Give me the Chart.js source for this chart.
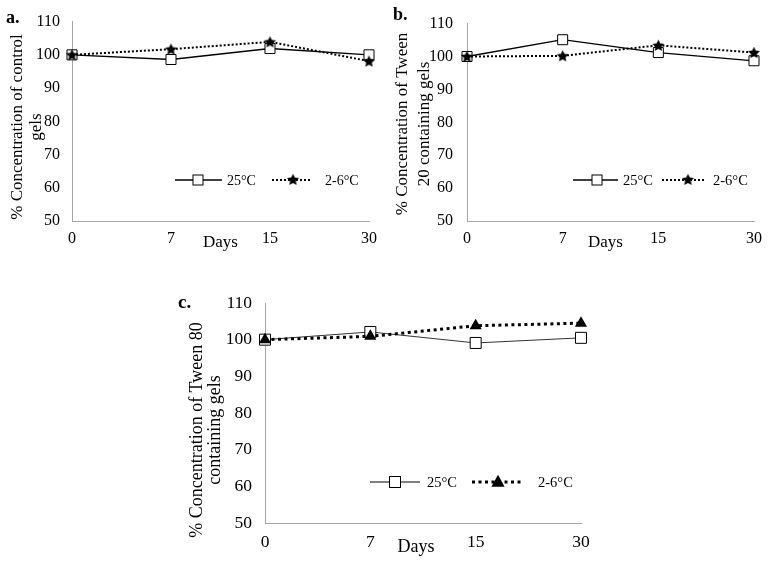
<!DOCTYPE html>
<html>
<head>
<meta charset="utf-8">
<script src="https://cdn.jsdelivr.net/npm/chart.js@4.4.1/dist/chart.umd.min.js"></script>
<style>
  body { margin: 0; background: #fff; width: 770px; height: 564px; position: relative; overflow: hidden; }
  canvas { position: absolute; }
</style>
</head>
<body>
<canvas id="chartA" width="385" height="260" style="left:0;top:0"></canvas>
<canvas id="chartB" width="385" height="260" style="left:385px;top:0"></canvas>
<canvas id="chartC" width="450" height="294" style="left:160px;top:270px"></canvas>
<script>
// jours de prélèvement
const days = ["0", "7", "15", "30"];
const yMin = 50, yMax = 110, yStep = 10;

// a. gels témoins
const control25 = [100, 98.6, 101.9, 100];
const control26 = [100, 101.7, 103.9, 98.1];
// b. gels Tween 20
const tween20_25 = [100, 105.1, 101.2, 98.7];
const tween20_26 = [100, 100.2, 103.4, 101.2];
// c. gels Tween 80
const tween80_25 = [100, 102.1, 99.1, 100.5];
const tween80_26 = [100, 100.9, 103.8, 104.5];

const serif = "'Liberation Serif', 'Times New Roman', serif";

// étoile pleine pour la série 2-6°C (a et b)
function makeStar() {
    const c = document.createElement("canvas");
    c.width = 13; c.height = 13;
    const g = c.getContext("2d");
    g.fillStyle = "#000";
    g.beginPath();
    for (let i = 0; i < 10; i++) {
        const r = i % 2 === 0 ? 6.3 : 3.0;
        const a = -Math.PI / 2 + i * Math.PI / 5;
        g.lineTo(6.5 + r * Math.cos(a), 7 + r * Math.sin(a));
    }
    g.closePath();
    g.fill();
    return c;
}
const starImg = makeStar();

function drawMarker(ctx, kind, x, y, size) {
    ctx.save();
    if (kind === "rect") {
        ctx.fillStyle = "#fff";
        ctx.strokeStyle = "#000";
        ctx.lineWidth = 1;
        ctx.fillRect(x - size / 2, y - size / 2, size, size);
        ctx.strokeRect(x - size / 2, y - size / 2, size, size);
    } else if (kind === "triangle") {
        ctx.fillStyle = "#000";
        ctx.beginPath();
        ctx.moveTo(x, y - size * 0.6);
        ctx.lineTo(x + size * 0.55, y + size * 0.4);
        ctx.lineTo(x - size * 0.55, y + size * 0.4);
        ctx.closePath();
        ctx.fill();
    } else {
        ctx.drawImage(starImg, x - 6.5, y - 7);
    }
    ctx.restore();
}

// titres, légende et lettre du panneau
const panelDecor = {
    id: "panelDecor",
    afterDraw(chart, args, o) {
        const ctx = chart.ctx;
        const area = chart.chartArea;
        ctx.save();
        ctx.fillStyle = "#000";

        ctx.font = "bold " + o.letterSize + "px " + serif;
        ctx.textAlign = "left";
        ctx.textBaseline = "alphabetic";
        ctx.fillText(o.letter, o.letterPos[0], o.letterPos[1]);

        ctx.font = o.titleSize + "px " + serif;
        ctx.textAlign = "center";
        ctx.textBaseline = "middle";
        o.yTitle.forEach((line, i) => {
            ctx.save();
            ctx.translate(o.yTitleX[i], o.yTitleY);
            ctx.rotate(-Math.PI / 2);
            ctx.fillText(line, 0, 0);
            ctx.restore();
        });

        ctx.fillText("Days", (area.left + area.right) / 2 + o.daysDx, o.daysY);

        // légende dans la zone du graphique
        const lg = o.legend;
        ctx.strokeStyle = "#000";
        ctx.lineWidth = o.solidWidth;
        ctx.beginPath();
        ctx.moveTo(lg.seg1[0], lg.y);
        ctx.lineTo(lg.seg1[1], lg.y);
        ctx.stroke();
        ctx.lineWidth = o.dotWidth;
        ctx.setLineDash(o.dash);
        ctx.beginPath();
        ctx.moveTo(lg.seg2[0], lg.y);
        ctx.lineTo(lg.seg2[1], lg.y);
        ctx.stroke();
        ctx.setLineDash([]);
        drawMarker(ctx, "rect", lg.mk1, lg.y, o.squareSize);
        drawMarker(ctx, o.coldStyle, lg.mk2, lg.y, o.triSize);

        ctx.font = o.legendSize + "px " + serif;
        ctx.textAlign = "left";
        ctx.fillText("25°C", lg.t1, lg.y + 1);
        ctx.fillText("2-6°C", lg.t2, lg.y + 1);
        ctx.restore();
    }
};

function makeChart(id, warm, cold, p) {
    const coldStyle = p.coldStyle === "star" ? starImg : "triangle";
    return new Chart(document.getElementById(id), {
        type: "line",
        data: {
            labels: days,
            datasets: [
                {
                    label: "2-6°C", data: cold, order: 0,
                    borderColor: "#000", borderWidth: p.dotWidth, borderDash: p.dash,
                    borderCapStyle: "butt", tension: 0,
                    pointStyle: coldStyle, pointRadius: p.triRadius,
                    pointBackgroundColor: "#000", pointBorderColor: "#000", pointBorderWidth: 0
                },
                {
                    label: "25°C", data: warm, order: 1,
                    borderColor: p.solidColor, borderWidth: p.solidWidth, tension: 0,
                    pointStyle: "rect", pointRadius: p.squareSize / 1.414,
                    pointBackgroundColor: "#fff", pointBorderColor: "#000", pointBorderWidth: 1
                }
            ]
        },
        options: {
            responsive: false,
            devicePixelRatio: 1,
            animation: false,
            layout: { padding: { left: 0, right: p.padRight, top: p.padTop, bottom: 0 } },
            plugins: {
                legend: { display: false },
                tooltip: { enabled: false },
                panelDecor: p
            },
            scales: {
                x: {
                    type: "category",
                    offset: false,
                    grid: { display: false, drawTicks: false },
                    border: { display: true, color: "#a6a6a6", width: 1 },
                    ticks: { color: "#000", font: { family: serif, size: p.tickSize }, padding: p.xPad, maxRotation: 0, autoSkip: false },
                    afterFit: s => { s.height = p.xHeight; }
                },
                y: {
                    min: yMin, max: yMax,
                    grid: { display: false, drawTicks: false },
                    border: { display: true, color: "#a6a6a6", width: 1 },
                    ticks: { stepSize: yStep, color: "#000", font: { family: serif, size: p.tickSize }, padding: p.yPad },
                    afterFit: s => { s.width = p.yWidth; }
                }
            }
        },
        plugins: [panelDecor]
    });
}

makeChart("chartA", control25, control26, {
    letter: "a.", letterSize: 18, letterPos: [6, 23],
    yTitle: ["% Concentration of control", "gels"], titleSize: 17, yTitleX: [18, 37], yTitleY: 127,
    daysDx: 0, daysY: 243,
    tickSize: 16, xPad: 8, yPad: 12, yWidth: 72, xHeight: 39, padTop: 13, padRight: 15,
    solidColor: "#000", solidWidth: 1.3, dotWidth: 2, dash: [2, 2], coldStyle: "star",
    squareSize: 10, triSize: 11, triRadius: 6,
    legendSize: 14,
    legend: { y: 180, seg1: [175, 222], mk1: 198, t1: 227, seg2: [272, 312], mk2: 293, t2: 325 }
});

makeChart("chartB", tween20_25, tween20_26, {
    letter: "b.", letterSize: 18, letterPos: [8, 20],
    yTitle: ["% Concentration of Tween", "20 containing gels"], titleSize: 17, yTitleX: [18, 40], yTitleY: 124,
    daysDx: -5, daysY: 243,
    tickSize: 16, xPad: 8, yPad: 14, yWidth: 82, xHeight: 39, padTop: 18, padRight: 13,
    solidColor: "#000", solidWidth: 1.3, dotWidth: 2, dash: [2, 2], coldStyle: "star",
    squareSize: 10, triSize: 11, triRadius: 6,
    legendSize: 14.5,
    legend: { y: 180, seg1: [188, 233], mk1: 212, t1: 238, seg2: [277, 320], mk2: 303, t2: 328 }
});

makeChart("chartC", tween80_25, tween80_26, {
    letter: "c.", letterSize: 19, letterPos: [18, 38],
    yTitle: ["% Concentration of Tween 80", "containing gels"], titleSize: 18, yTitleX: [37, 55], yTitleY: 160,
    daysDx: -7, daysY: 277,
    tickSize: 17.5, xPad: 9, yPad: 13, yWidth: 105, xHeight: 41, padTop: 33, padRight: 29,
    solidColor: "#333", solidWidth: 1, dotWidth: 3, dash: [3, 3.5], coldStyle: "triangle",
    squareSize: 11, triSize: 12, triRadius: 7,
    legendSize: 14.5,
    legend: { y: 212, seg1: [210, 260], mk1: 235, t1: 267, seg2: [312, 362], mk2: 338, t2: 378 }
});
</script>
</body>
</html>
